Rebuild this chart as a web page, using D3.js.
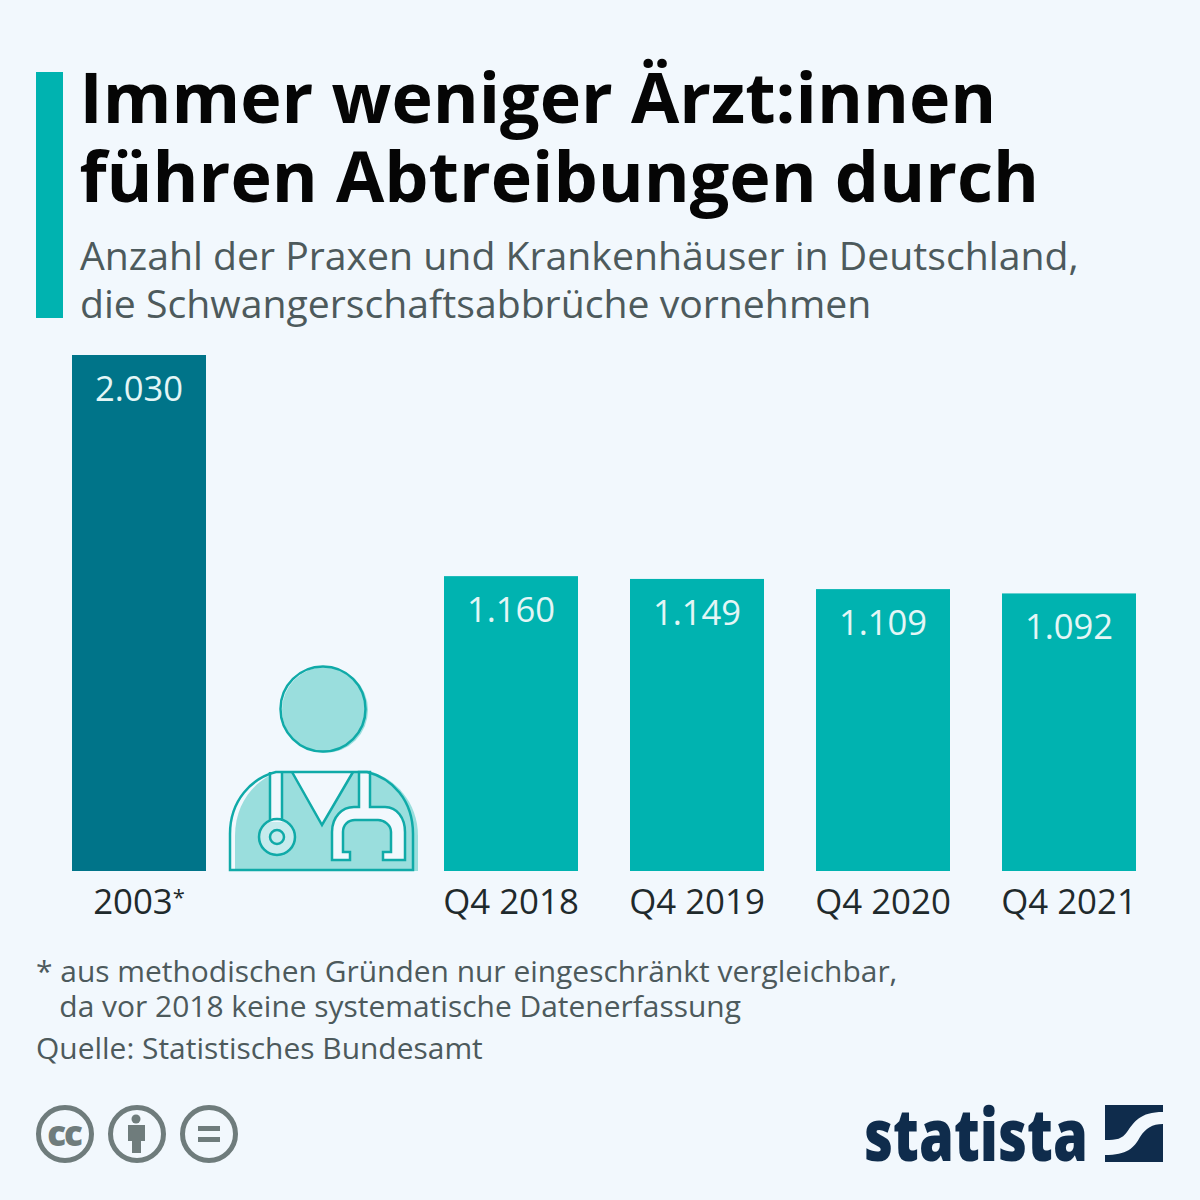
<!DOCTYPE html>
<html>
<head>
<meta charset="utf-8">
<script src="https://cdn.jsdelivr.net/npm/d3@7"></script>
<style>
  html, body { margin: 0; padding: 0; background: #f2f8fd; }
  text { font-family: "Open Sans", sans-serif; }
</style>
</head>
<body>
<div id="chart"></div>
<script>
// chart data
const categories = ["2003*", "", "Q4 2018", "Q4 2019", "Q4 2020", "Q4 2021"];
const values = [2030, null, 1160, 1149, 1109, 1092];
const valueLabels = ["2.030", "", "1.160", "1.149", "1.109", "1.092"];

const titleLines = ["Immer weniger Ärzt:innen", "führen Abtreibungen durch"];
const subtitleLines = ["Anzahl der Praxen und Krankenhäuser in Deutschland,", "die Schwangerschaftsabbrüche vornehmen"];
const footLines = ["* aus methodischen Gründen nur eingeschränkt vergleichbar,", "   da vor 2018 keine systematische Datenerfassung", "Quelle: Statistisches Bundesamt"];

const w = 1200, h = 1200;
const bg = "#f2f8fd", teal = "#00b3b0", darkTeal = "#007489", navy = "#0f2c4c", grey = "#4d5a5c", iconGrey = "#6f7c7c";

const svg = d3.select("#chart").append("svg")
  .attr("width", w)
  .attr("height", h)
  .style("display", "block");

svg.append("rect").attr("width", w).attr("height", h).attr("fill", bg);

// title block
svg.append("rect").attr("x", 36).attr("y", 72).attr("width", 27).attr("height", 246).attr("fill", teal);

svg.selectAll(".title").data(titleLines).enter().append("text")
  .attr("class", "title")
  .attr("x", 79.5)
  .attr("y", (d, i) => 123 + i * 79)
  .attr("font-size", 70)
  .attr("font-weight", 700)
  .attr("fill", "#050505")
  .text(d => d);

svg.selectAll(".subtitle").data(subtitleLines).enter().append("text")
  .attr("class", "subtitle")
  .attr("x", 80)
  .attr("y", (d, i) => 269.5 + i * 48)
  .attr("font-size", 39.2)
  .attr("fill", grey)
  .text(d => d);

// scales
const xScale = d3.scaleBand()
  .domain(categories)
  .range([72, 1136])
  .paddingInner(52 / 186);

const yScale = d3.scaleLinear()
  .domain([0, 2030])
  .range([871, 355]);

// bars
const rows = categories.map((c, i) => ({ c: c, v: values[i], label: valueLabels[i] })).filter(d => d.v !== null);

svg.selectAll(".bar").data(rows).enter().append("rect")
  .attr("class", "bar")
  .attr("x", d => xScale(d.c))
  .attr("y", d => yScale(d.v))
  .attr("width", xScale.bandwidth())
  .attr("height", d => yScale(0) - yScale(d.v))
  .attr("fill", (d, i) => i === 0 ? darkTeal : teal);

svg.selectAll(".value").data(rows).enter().append("text")
  .attr("class", "value")
  .attr("x", d => xScale(d.c) + xScale.bandwidth() / 2)
  .attr("y", d => yScale(d.v) + 46)
  .attr("text-anchor", "middle")
  .attr("font-size", 34.6)
  .attr("fill", "#e4f6f6")
  .text(d => d.label);

// axis labels, no axis line in the original
const xAxis = d3.axisBottom(xScale).tickSize(0).tickPadding(0);
const axisG = svg.append("g")
  .attr("transform", "translate(0,882)")
  .call(xAxis);
axisG.select(".domain").remove();
axisG.selectAll("text")
  .attr("font-family", null)
  .attr("font-size", 34.8)
  .attr("fill", "#1f2a2c")
  .attr("dy", "0.93em")
  .text(null)
  .each(function (d) {
    const t = d3.select(this);
    const star = d.endsWith("*");
    t.append("tspan").text(star ? d.slice(0, -1) : d);
    if (star) t.append("tspan").attr("font-size", 22).attr("dy", -9).text("*");
  });

// doctor icon
const icon = svg.append("g");
const fillTeal = "#9adedd", lineTeal = "#10aaa8";
icon.append("circle").attr("cx", 325).attr("cy", 710).attr("r", 43).attr("fill", fillTeal);
icon.append("circle").attr("cx", 323).attr("cy", 709).attr("r", 42.5)
  .attr("fill", "none").attr("stroke", lineTeal).attr("stroke-width", 2.5);
icon.append("path")
  .attr("d", "M235 871V836C235 802 256 779 280 771H369C395 778 418 802 418 836V871Z")
  .attr("fill", fillTeal);
icon.append("path") // neck opening
  .attr("d", "M292 771L322 825L353 771Z")
  .attr("fill", bg);
const headset = "M332 860V832C332 817 342 807 354 807H359V772H370V807H385C397 807 405 818 405 832V860H383V852H391V832C391 825 384 820 378 820H355C348 820 343 825 343 832V852H350V860H332Z";
icon.append("path").attr("d", headset).attr("fill", bg);
icon.append("rect").attr("x", 270).attr("y", 772).attr("width", 12).attr("height", 50).attr("fill", bg);
icon.append("circle").attr("cx", 277).attr("cy", 837).attr("r", 17).attr("fill", bg).attr("opacity", 0.5);
const outline = [
  "M230 870V834C230 800 252 778 276 772H367C392 778 413 800 413 834V870Z",
  "M292 772L322 825L353 772",
  "M270 772V821M282 772V821",
  headset,
];
icon.selectAll(".line").data(outline).enter().append("path")
  .attr("class", "line")
  .attr("d", d => d)
  .attr("fill", "none")
  .attr("stroke", lineTeal)
  .attr("stroke-width", 2.5);
icon.append("circle").attr("cx", 277).attr("cy", 837).attr("r", 18)
  .attr("fill", "none").attr("stroke", lineTeal).attr("stroke-width", 2.5);
icon.append("circle").attr("cx", 277).attr("cy", 837).attr("r", 7)
  .attr("fill", "none").attr("stroke", lineTeal).attr("stroke-width", 2.5);

// footnote and source
svg.selectAll(".foot").data(footLines).enter().append("text")
  .attr("class", "foot")
  .attr("x", 36)
  .attr("y", (d, i) => [982, 1017, 1059][i])
  .attr("font-size", 29.95)
  .attr("fill", grey)
  .attr("xml:space", "preserve")
  .style("white-space", "pre")
  .text(d => d);

// cc badges
const badges = [65, 137, 209];
svg.selectAll(".badge").data(badges).enter().append("circle")
  .attr("class", "badge")
  .attr("cx", d => d)
  .attr("cy", 1134)
  .attr("r", 26.5)
  .attr("fill", "none")
  .attr("stroke", iconGrey)
  .attr("stroke-width", 5);
svg.append("text")
  .attr("x", 64).attr("y", 1146)
  .attr("text-anchor", "middle")
  .attr("font-size", 35)
  .attr("font-weight", 800)
  .attr("letter-spacing", -2)
  .attr("fill", iconGrey)
  .text("cc");
svg.append("circle").attr("cx", 136).attr("cy", 1119).attr("r", 4.5).attr("fill", iconGrey);
svg.append("path").attr("d", "M128 1125H145V1141H141V1153H132V1141H128Z").attr("fill", iconGrey);
svg.append("rect").attr("x", 198).attr("y", 1126).attr("width", 22).attr("height", 5).attr("fill", iconGrey);
svg.append("rect").attr("x", 198).attr("y", 1137).attr("width", 22).attr("height", 5).attr("fill", iconGrey);

// statista logo
svg.append("text")
  .attr("x", 864).attr("y", 1161)
  .attr("font-family", "Open Sans")
  .attr("font-size", 72)
  .attr("font-weight", 800)
  .attr("textLength", 224)
  .attr("lengthAdjust", "spacingAndGlyphs")
  .attr("fill", navy)
  .text("statista");
svg.append("path")
  .attr("d", "M1105 1105H1163V1112C1140 1112 1134 1122 1127 1132C1122 1139 1117 1140 1105 1140Z")
  .attr("fill", navy);
svg.append("path")
  .attr("d", "M1163 1124V1162H1105V1155C1127 1155 1134 1148 1140 1137C1146 1128 1152 1124 1163 1124Z")
  .attr("fill", navy);
</script>
</body>
</html>
